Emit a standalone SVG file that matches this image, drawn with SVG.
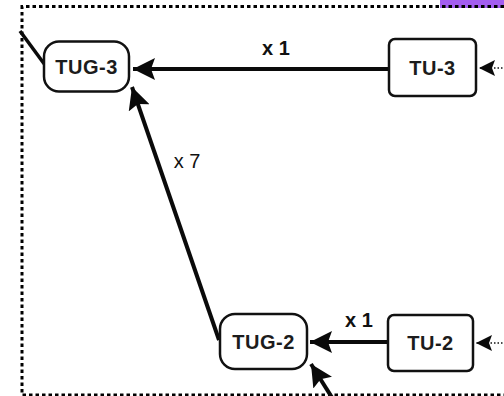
<svg xmlns="http://www.w3.org/2000/svg" width="504" height="396" viewBox="0 0 504 396">
  <style>
    .node rect { fill: #ffffff; stroke: #111111; stroke-width: 2.5; }
    .node text { font-family: "Liberation Sans", Arial, sans-serif; font-weight: bold; font-size: 20px; fill: #1c1c1c; text-anchor: middle; letter-spacing: 0.5px; }
    .edge { fill: none; stroke: #0a0a0a; stroke-width: 4; }
    .dotted { fill: none; stroke: #111111; stroke-width: 1.5; stroke-dasharray: 1.5 2; }
    .lbl-b { font-family: "Liberation Sans", Arial, sans-serif; font-weight: bold; font-size: 20px; fill: #111111; text-anchor: middle; }
    .lbl { font-family: "Liberation Sans", Arial, sans-serif; font-size: 20px; fill: #111111; text-anchor: middle; }
    .frame { fill: none; stroke: #000000; stroke-width: 3; stroke-dasharray: 3.5 3; }
  </style>
  <defs>
    <marker id="ah" viewBox="0 0 22 22" refX="22" refY="11" markerWidth="22" markerHeight="22" markerUnits="userSpaceOnUse" orient="auto">
      <path d="M0,0 L22,11 L0,22 L4,11 Z" fill="#0a0a0a"/>
    </marker>
    <marker id="ahs" viewBox="0 0 16 16" refX="16" refY="8" markerWidth="16" markerHeight="16" markerUnits="userSpaceOnUse" orient="auto">
      <path d="M0,0 L16,8 L0,16 L3,8 Z" fill="#0a0a0a"/>
    </marker>
  </defs>
  <rect x="0" y="0" width="504" height="396" fill="#ffffff"/>
  <rect x="440" y="0" width="64" height="8" fill="#a35df0"/>
  <path class="frame" d="M504,6.5 H22 V395 H504"/>

  <g id="connectors">
    <line x1="20" y1="31" x2="45" y2="65" stroke="#0a0a0a" stroke-width="3.5"/>
    <line class="edge" x1="389" y1="69" x2="133" y2="69" marker-end="url(#ah)"/>
    <line class="edge" x1="219" y1="340" x2="132" y2="87" marker-end="url(#ah)"/>
    <line class="edge" x1="388" y1="342" x2="310" y2="342" marker-end="url(#ah)"/>
    <line class="edge" x1="336" y1="404" x2="311" y2="364" marker-end="url(#ah)"/>
    <line class="dotted" x1="506" y1="68" x2="479" y2="68" marker-end="url(#ahs)"/>
    <line class="dotted" x1="506" y1="343" x2="476" y2="343" marker-end="url(#ahs)"/>
    <text class="lbl-b" x="276" y="55">x 1</text>
    <text class="lbl" x="187" y="168">x 7</text>
    <text class="lbl-b" x="359" y="327">x 1</text>
  </g>

  <g id="TUG-3" class="node">
    <rect x="44" y="41.5" width="85" height="50" rx="15" ry="15"/>
    <text x="86.5" y="74">TUG-3</text>
  </g>
  <g id="TU-3" class="node">
    <rect x="389" y="39" width="87" height="57" rx="6" ry="6"/>
    <text x="432.5" y="75">TU-3</text>
  </g>
  <g id="TUG-2" class="node">
    <rect x="220" y="314" width="87" height="55" rx="15" ry="15"/>
    <text x="263.5" y="349">TUG-2</text>
  </g>
  <g id="TU-2" class="node">
    <rect x="388" y="315" width="85" height="56" rx="6" ry="6"/>
    <text x="430.5" y="350">TU-2</text>
  </g>
</svg>
